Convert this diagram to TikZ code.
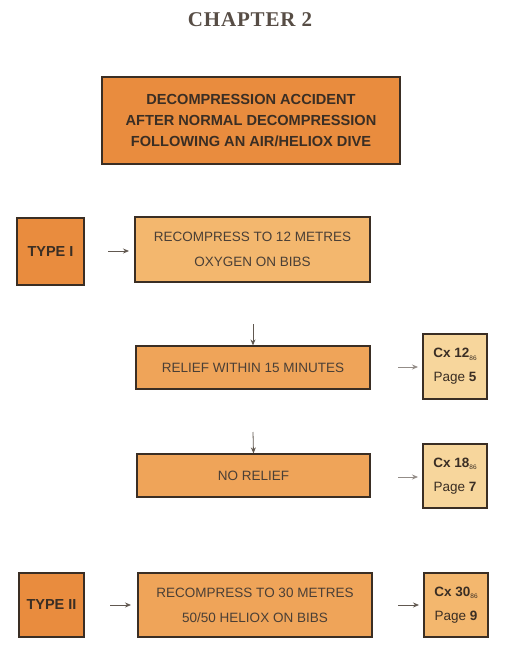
\documentclass[tikz,border=0pt]{standalone}
\usepackage{fontspec}
\setmainfont{Liberation Sans}
\newfontfamily\titlefont[LetterSpace=4]{Liberation Serif}
\usetikzlibrary{arrows.meta}
\definecolor{darkor}{HTML}{E98C3E}
\definecolor{midor}{HTML}{EFA459}
\definecolor{lightor}{HTML}{F3B76E}
\definecolor{paleor}{HTML}{F7D69C}
\definecolor{inkc}{HTML}{3A2E24}
\newcommand{\subnum}[1]{\raisebox{-2.5pt}{\fontsize{6.5}{7}\selectfont #1}}
\tikzset{
  box/.style={draw=inkc, line width=1.6pt, inner sep=0pt, text=inkc},
  thinbox/.style={box, line width=1.2pt},
  plaintext/.style={font=\fontsize{13.5}{25}\selectfont, text=inkc!92},
  smallarrow/.style={-{Stealth[length=6pt,width=5pt]}, line width=0.8pt, draw=inkc!80},
  grayarrow/.style={-{Stealth[length=6pt,width=5pt]}, line width=0.8pt, draw=inkc!55},
}
\begin{document}
\begin{tikzpicture}[x=1pt,y=-1pt]
\useasboundingbox (0,0) rectangle (505,652);
\node[text=inkc!85] (title) at (250,19.5) {\titlefont\bfseries\fontsize{21}{24}\selectfont CHAPTER 2};
% top box
\node[box, fill=darkor, minimum width=298pt, minimum height=87pt, align=center, font=\bfseries\fontsize{14.6}{21}\selectfont] (top) at (251,120.5)
  {DECOMPRESSION ACCIDENT\\AFTER NORMAL DECOMPRESSION\\FOLLOWING AN AIR/HELIOX DIVE};
% type I
\node[box, fill=darkor, minimum width=67pt, minimum height=67pt, font=\bfseries\fontsize{14.5}{16}\selectfont] (t1) at (50.5,251.5) {TYPE I};
\node[thinbox, fill=lightor, minimum width=235pt, minimum height=65pt, align=center, plaintext] (r12) at (252.5,249.5)
  {RECOMPRESS TO 12 METRES\\OXYGEN ON BIBS};
\node[thinbox, fill=midor, minimum width=234pt, minimum height=43pt, plaintext] (rel) at (253,367.5) {RELIEF WITHIN 15 MINUTES};
\node[thinbox, fill=midor, minimum width=233pt, minimum height=43pt, plaintext] (norel) at (253.5,475.5) {NO RELIEF};
\node[thinbox, fill=paleor, minimum width=64pt, minimum height=65pt, align=center, font=\fontsize{13.5}{24}\selectfont] (cx12) at (455,366.5)
  {\textbf{Cx 12}\subnum{86}\\Page \textbf{5}};
\node[thinbox, fill=paleor, minimum width=64pt, minimum height=64pt, align=center, font=\fontsize{13.5}{24}\selectfont] (cx18) at (455,476)
  {\textbf{Cx 18}\subnum{86}\\Page \textbf{7}};
% type II
\node[box, fill=darkor, minimum width=65pt, minimum height=64pt, font=\bfseries\fontsize{14.5}{16}\selectfont] (t2) at (51.5,605) {TYPE II};
\node[thinbox, fill=midor, minimum width=234pt, minimum height=64pt, align=center, plaintext] (r30) at (255,605)
  {RECOMPRESS TO 30 METRES\\50/50 HELIOX ON BIBS};
\node[thinbox, fill=lightor, minimum width=64pt, minimum height=64pt, align=center, font=\fontsize{13.5}{24}\selectfont] (cx30) at (456,605)
  {\textbf{Cx 30}\subnum{86}\\Page \textbf{9}};
% arrows
\coordinate (a1s) at (108,251); \coordinate (a1e) at (129,251);
\draw[smallarrow] (a1s) -- (a1e);
\coordinate (d1s) at (253,324);
\draw[smallarrow] (d1s) -- (rel.north);
\coordinate (d2s) at (253,432);
\draw[smallarrow] (d2s) -- (norel.north);
\coordinate (g1s) at (398,367); \coordinate (g1e) at (418,367);
\draw[grayarrow] (g1s) -- (g1e);
\coordinate (g2s) at (398,477); \coordinate (g2e) at (418,477);
\draw[grayarrow] (g2s) -- (g2e);
\coordinate (a2s) at (110,605); \coordinate (a2e) at (131,605);
\draw[smallarrow] (a2s) -- (a2e);
\coordinate (a3s) at (398,605); \coordinate (a3e) at (419,605);
\draw[smallarrow] (a3s) -- (a3e);
\end{tikzpicture}
\end{document}
